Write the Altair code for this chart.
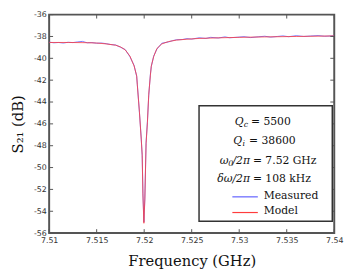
import altair as alt
import pandas as pd

# ---- data ----
f_model = [7.5100, 7.5120, 7.5140, 7.5150, 7.5160, 7.5170, 7.5175, 7.5180, 7.5185,
           7.51894, 7.51921, 7.51928, 7.5195, 7.51969, 7.51979, 7.51987, 7.51997,
           7.52007, 7.5202, 7.52034, 7.52048, 7.52065, 7.52075, 7.5210, 7.52134,
           7.52186, 7.52255, 7.5234, 7.5245, 7.52577, 7.5280, 7.5300, 7.53268,
           7.5360, 7.5400]
s_model = [-38.55, -38.55, -38.57, -38.60, -38.68, -38.80, -38.95, -39.22, -39.80,
           -40.70, -41.60, -42.46, -44.90, -47.40, -48.80, -52.60, -55.10,
           -52.90, -47.80, -45.90, -43.30, -41.60, -40.70, -39.84, -39.10,
           -38.68, -38.47, -38.33, -38.25, -38.18, -38.12, -38.08, -38.04,
           -38.00, -37.95]

f_meas = [7.5100, 7.5105, 7.5110, 7.5115, 7.5120, 7.5125, 7.5130, 7.5135, 7.5140,
          7.5145, 7.5150, 7.5155, 7.5160, 7.5165, 7.5170, 7.5175, 7.5180, 7.5185,
          7.51894, 7.51921, 7.51928, 7.5195, 7.51969, 7.51979, 7.51987, 7.51997,
          7.52007, 7.5202, 7.52034, 7.52048, 7.52065, 7.52075, 7.5210, 7.52134,
          7.52186, 7.52255, 7.5230, 7.5234, 7.5240, 7.5245, 7.5250, 7.5258,
          7.5265, 7.5270, 7.5278, 7.5285, 7.5290, 7.5298, 7.5305, 7.5312,
          7.5320, 7.5327, 7.5333, 7.5340, 7.5346, 7.5352, 7.5360, 7.5368,
          7.5375, 7.5383, 7.5390, 7.5400]
s_meas = [-38.52, -38.58, -38.55, -38.60, -38.53, -38.56, -38.50, -38.45, -38.58,
          -38.56, -38.62, -38.60, -38.66, -38.74, -38.78, -38.98, -39.20, -39.85,
          -40.65, -41.65, -42.40, -44.95, -47.30, -48.90, -52.40, -55.00,
          -52.80, -47.70, -45.80, -43.40, -41.50, -40.75, -39.80, -39.15,
          -38.62, -38.50, -38.38, -38.30, -38.28, -38.20, -38.24, -38.12,
          -38.18, -38.08, -38.14, -38.04, -38.12, -38.07, -38.02, -38.10,
          -38.03, -37.98, -38.06, -38.00, -37.95, -38.02, -37.93, -38.00,
          -37.96, -37.92, -37.98, -37.94]

x_ticks = [7.51, 7.515, 7.52, 7.525, 7.53, 7.535, 7.54]
y_ticks = [-56, -54, -52, -50, -48, -46, -44, -42, -40, -38, -36]

W, H = 291, 223
FRAME = "#555555"
BLUE = "#6060ff"
RED = "#ff3c3c"
SERIF = "DejaVu Serif"

meas = pd.DataFrame({"f": f_meas, "s": s_meas})
model = pd.DataFrame({"f": f_model, "s": s_model})
xt = pd.DataFrame({"t": x_ticks})
yt = pd.DataFrame({"t": y_ticks})

xs = alt.Scale(domain=[7.51, 7.54], nice=False, zero=False)
ys = alt.Scale(domain=[-56, -36], nice=False, zero=False)

xaxis = alt.Axis(values=x_ticks, labelExpr="toString(datum.value)", ticks=False,
                 domain=False, grid=False, labelPadding=4, labelFont="DejaVu Sans",
                 labelFontSize=8, labelColor="#333", title="Frequency (GHz)",
                 titleFont=SERIF, titleFontSize=15, titleFontWeight="normal",
                 titleColor="#111", titleY=28, titleBaseline="middle",
                 labelFlush=False, labelOverlap=False)
yaxis = alt.Axis(values=y_ticks, labelExpr="toString(datum.value)", ticks=False,
                 domain=False, grid=False, labelPadding=3, labelFont="DejaVu Sans",
                 labelFontSize=8, labelColor="#333", title="S₂₁ (dB)",
                 titleFont=SERIF, titleFontSize=15, titleFontWeight="normal",
                 titleColor="#111", titleX=-32, titleY=H / 2, titleBaseline="middle",
                 titleAngle=-90, titleAlign="center", labelFlush=False, labelOverlap=False)

X = lambda fld: alt.X(fld, scale=xs, axis=xaxis)
Y = lambda fld: alt.Y(fld, scale=ys, axis=yaxis)

meas_line = alt.Chart(meas).mark_line(color=BLUE, strokeWidth=1, opacity=0.85, clip=True).encode(
    x=X("f:Q"), y=Y("s:Q"))
model_line = alt.Chart(model).mark_line(color=RED, strokeWidth=1, opacity=0.8, clip=True).encode(
    x=X("f:Q"), y=Y("s:Q"))

tick_style = dict(color=FRAME, strokeWidth=1)
tb = alt.Chart(xt).mark_rule(**tick_style).encode(x=X("t:Q"), y=alt.value(H), y2=alt.value(H - 4))
tt = alt.Chart(xt).mark_rule(**tick_style).encode(x=X("t:Q"), y=alt.value(0), y2=alt.value(4))
tl = alt.Chart(yt).mark_rule(**tick_style).encode(y=Y("t:Q"), x=alt.value(0), x2=alt.value(4))
tr = alt.Chart(yt).mark_rule(**tick_style).encode(y=Y("t:Q"), x=alt.value(W), x2=alt.value(W - 4))

# ---- legend / annotation box ----
box = alt.Chart(pd.DataFrame({"a": [0]})).mark_rect(fill="white", stroke="#333", strokeWidth=1.5).encode(
    x=alt.value(153), x2=alt.value(289), y=alt.value(93), y2=alt.value(211))

def txt(s, x, y, size=11, italic=False, align="left", dy=0):
    return alt.Chart(pd.DataFrame({"a": [0]})).mark_text(
        text=s, font=SERIF, fontSize=size, fontStyle="italic" if italic else "normal",
        align=align, baseline="middle", color="#111", dy=dy).encode(x=alt.value(x), y=alt.value(y))

ann = [
    txt("Q", 198.5, 110, italic=True, align="right"),
    txt("c", 203, 110, size=8, italic=True, align="right", dy=3),
    txt("= 5500", 206, 110),
    txt("Q", 197, 129, italic=True, align="right"),
    txt("i", 200, 129, size=8, italic=True, align="right", dy=3),
    txt("= 38600", 204, 129),
    txt("ω", 183, 149, italic=True, align="right"),
    txt("0", 188, 149, size=8, italic=True, align="right", dy=3),
    txt("/2π", 205, 149, italic=True, align="right"),
    txt("= 7.52 GHz", 208, 149),
    txt("δω/2π", 205, 168, italic=True, align="right"),
    txt("= 108 kHz", 208, 168),
    txt("Measured", 219, 185),
    txt("Model", 219, 201),
]
leg_lines = [
    alt.Chart(pd.DataFrame({"a": [0]})).mark_rule(color=BLUE, strokeWidth=1.2).encode(
        x=alt.value(187), x2=alt.value(213), y=alt.value(186)),
    alt.Chart(pd.DataFrame({"a": [0]})).mark_rule(color=RED, strokeWidth=1.2).encode(
        x=alt.value(187), x2=alt.value(213), y=alt.value(202)),
]

chart = alt.layer(meas_line, model_line, tb, tt, tl, tr, box, *leg_lines, *ann).properties(
    width=W, height=H,
    autosize=alt.AutoSizeParams(type="none"),
    padding={"left": 42, "top": 4, "right": 12, "bottom": 40},
).configure_view(stroke=FRAME, strokeWidth=2).configure_axis(labelOverlap=False)

chart.save("out.html", embed_options={"renderer": "svg", "actions": False})
